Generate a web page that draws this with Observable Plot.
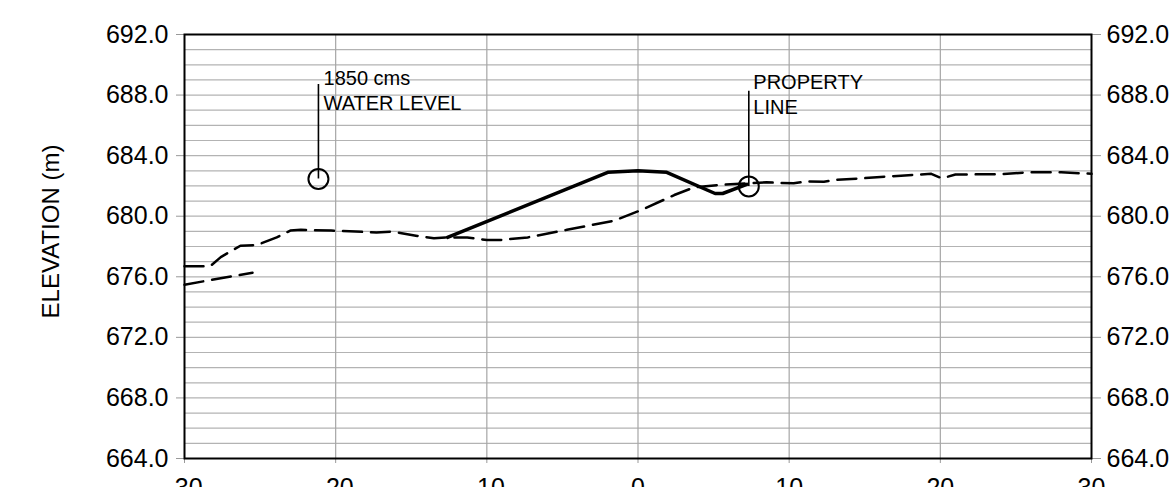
<!DOCTYPE html>
<html>
<head>
<meta charset="utf-8">
<script src="https://cdn.jsdelivr.net/npm/d3@7"></script>
<script src="https://cdn.jsdelivr.net/npm/@observablehq/plot@0.6"></script>
<style>
  html, body { margin: 0; padding: 0; background: white; overflow: hidden; }
</style>
</head>
<body>
<div id="chart"></div>
<script>
// Existing ground (dashed)
const groundX = [-30, -28.3, -27.6, -26.3, -25.2, -23.9, -23.0, -22.3, -20.3, -17.3, -16.2, -14.6, -13.5, -12.6, -11.3, -10.0, -9.1, -7.3, -4.7, -1.6, 0.2, 2.4, 3.7, 5.5, 7.2, 8.5, 9.3, 10.3, 11.2, 12.3, 13.1, 14.1, 15.8, 17.4, 19.4, 20.1, 21.0, 24.0, 26.0, 28.0, 30.0];
const groundY = [676.7, 676.7, 677.3, 678.05, 678.1, 678.6, 679.05, 679.1, 679.05, 678.93, 678.98, 678.7, 678.55, 678.6, 678.6, 678.43, 678.43, 678.6, 679.1, 679.7, 680.4, 681.4, 681.9, 682.07, 682.17, 682.24, 682.2, 682.17, 682.3, 682.28, 682.4, 682.46, 682.57, 682.68, 682.8, 682.5, 682.75, 682.78, 682.9, 682.9, 682.8];
// Lower dashed segment
const lowerX = [-30, -25.5];
const lowerY = [675.48, 676.27];
// Levee (solid)
const leveeX = [-12.6, -2.0, 0.0, 1.9, 5.1, 5.6, 7.2];
const leveeY = [678.6, 682.9, 683.0, 682.9, 681.5, 681.5, 682.1];
// Annotations
const noteLabels = ["1850 cms\nWATER LEVEL", "PROPERTY\nLINE"];
const noteX = [-20.8, 7.63];
const noteY = [689.84, 689.57];
const markerX = [-21.14, 7.33];
const markerY = [682.46, 681.97];
const leaderTop = [688.7, 688.25];
// Axes
const xTicks = [-30, -20, -10, 0, 10, 20, 30];
const yTicks = [664, 668, 672, 676, 680, 684, 688, 692];
const yMinor = d3.range(664, 693, 1);
const yLabel = "ELEVATION (m)";

const ground = groundX.map((x, i) => ({x, y: groundY[i]}));
const lower = lowerX.map((x, i) => ({x, y: lowerY[i]}));
const levee = leveeX.map((x, i) => ({x, y: leveeY[i]}));
const notes = noteLabels.map((t, i) => ({t, x: noteX[i], y: noteY[i], mx: markerX[i], my: markerY[i], top: leaderTop[i]}));

const font = "'Liberation Sans', Arial, Helvetica, sans-serif";

const chart = Plot.plot({
  width: 1176,
  height: 487,
  marginLeft: 184,
  marginRight: 85,
  marginTop: 34,
  marginBottom: 29,
  style: {fontFamily: font, fontSize: "25px", color: "black", background: "white", overflow: "visible"},
  x: {domain: [-30, 30]},
  y: {domain: [664, 692]},
  marks: [
    Plot.gridY(yMinor, {stroke: "#b3b3b3", strokeOpacity: 1, strokeWidth: 1.2}),
    Plot.gridX([-20, -10, 0, 10, 20], {stroke: "#a6a6a6", strokeOpacity: 1, strokeWidth: 1.2}),
    Plot.axisY(yTicks, {anchor: "left", tickSize: 8, tickPadding: 8, stroke: "#999", color: "black", fontSize: 25, tickFormat: d => d.toFixed(1), label: null}),
    Plot.axisY(yTicks, {anchor: "right", tickSize: 9, tickPadding: 6, stroke: "#999", color: "black", fontSize: 25, tickFormat: d => d.toFixed(1), label: null}),
    Plot.axisX(xTicks, {anchor: "bottom", tickSize: 5, tickPadding: 15, stroke: "#999", color: "black", fontSize: 25, tickFormat: d => String(d), label: null}),
    Plot.frame({stroke: "black", strokeWidth: 2}),
    Plot.line(lower, {x: "x", y: "y", stroke: "black", strokeWidth: 2.5, strokeDasharray: "19,9"}),
    Plot.line(ground, {x: "x", y: "y", stroke: "black", strokeWidth: 2.5, strokeDasharray: "19,9"}),
    Plot.line(levee, {x: "x", y: "y", stroke: "black", strokeWidth: 3.5, strokeLinejoin: "round"}),
    Plot.ruleX(notes, {x: "mx", y1: "my", y2: "top", stroke: "black", strokeWidth: 1.6}),
    Plot.dot(notes, {x: "mx", y: "my", r: 10, stroke: "black", strokeWidth: 2, fill: "none"}),
    Plot.text(notes, {x: "x", y: "y", text: "t", textAnchor: "start", lineAnchor: "top", lineHeight: 1.25, fontSize: 20, fill: "black"}),
    Plot.text([yLabel], {frameAnchor: "left", dx: -133, dy: -15, rotate: -90, textAnchor: "middle", fontSize: 24, fill: "black"})
  ]
});
document.getElementById("chart").appendChild(chart);
</script>
</body>
</html>
